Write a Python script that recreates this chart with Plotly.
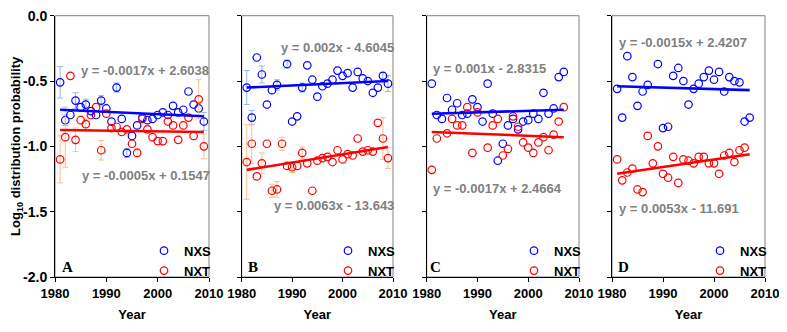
import numpy as np
import plotly.graph_objects as go

# ---------------- data ----------------
YEARS_AB = list(range(1981, 2010))
YEARS_CD = list(range(1981, 2008))

A_NXS = [-0.51, -0.80, -0.76, -0.65, -0.70, -0.68, -0.73, -0.76, -0.65, -0.71, -0.81, -0.55, -0.79, -1.05, -0.92,
         -0.84, -0.78, -0.80, -0.79, -0.76, -0.74, -0.76, -0.69, -0.74, -0.72, -0.58, -0.68, -0.71, -0.81]
A_NXT = [-1.10, -0.93, -0.46, -0.95, -0.80, -0.83, -0.76, -0.70, -1.03, -0.75, -0.86, -0.85, -0.89, -0.87, -0.98,
         -1.05, -0.79, -0.87, -0.93, -0.96, -0.96, -0.81, -0.84, -0.95, -0.84, -0.78, -0.92, -0.64, -1.00]
A_NXS_ERR = [0.12, 0.04, None, 0.06, None, 0.04, None, None, 0.04, None, None, 0.035, None, 0.035, None,
             None, None, None, None, None, None, None, None, None, None, None, None, None, 0.07]
A_NXT_ERR = [0.18, 0.23, None, 0.09, None, 0.04, None, None, 0.075, None, None, None, None, None, None,
             0.03, None, None, None, None, None, None, None, None, None, None, None, 0.15, 0.095]

B_NXS = [-0.55, -0.78, -0.32, -0.45, -0.68, -0.57, -0.53, None, -0.37, -0.81, -0.77, -0.55, -0.38, -0.49, -0.62,
         -0.54, -0.52, -0.49, -0.42, -0.46, -0.44, -0.55, -0.43, -0.48, -0.50, -0.59, -0.55, -0.46, -0.52]
B_NXT = [-1.12, -0.98, -1.23, -1.13, -0.98, -1.34, -1.33, -0.98, -1.15, -1.16, -1.15, -1.05, -1.13, -1.34, -1.11,
         -1.09, -1.08, -1.12, -1.03, -1.10, -1.06, -1.07, -0.94, -1.04, -1.03, -1.04, -0.82, -0.94, -1.09]
B_NXS_ERR = [0.13, 0.055, None, 0.065, None, None, 0.04, None, 0.03, None, None, 0.035, None, None, None,
             None, None, None, None, None, None, None, None, None, None, None, None, 0.025, 0.06]
B_NXT_ERR = [0.285, 0.15, None, 0.08, None, 0.05, 0.06, 0.05, None, 0.04, None, 0.045, None, None, None,
             None, None, None, None, None, None, None, None, None, None, None, None, 0.16, 0.08]

C_NXS = [-0.52, -0.76, -0.79, -0.63, -0.72, -0.67, -0.76, -0.75, -0.64, -0.70, -0.81, -0.52, -0.75, -1.11,
         -0.98, -0.84, -0.79, -0.87, -0.81, -0.80, -0.75, -0.79, -0.59, -0.75, -0.71, -0.47, -0.43]
C_NXT = [-1.18, -0.94, None, -0.90, -0.79, -0.84, -0.84, -0.70, -1.05, -0.74, None, -1.01, -0.84, -0.79,
         -1.07, -1.02, -0.77, -0.85, -0.97, -1.01, -1.05, -0.97, -0.93, -1.03, -0.91, -0.81, -0.70]

D_NXS = [-0.56, -0.78, -0.31, -0.47, -0.69, -0.58, -0.53, None, -0.37, -0.86, -0.85, -0.46, -0.40, -0.50,
         -0.68, -0.56, -0.52, -0.47, -0.42, -0.49, -0.43, -0.58, -0.47, -0.50, -0.51, -0.81, -0.78]
D_NXT = [-1.10, -1.26, -1.20, -1.17, -1.33, -1.35, -0.92, -1.13, -1.00, -1.21, -1.24, -1.08, -1.28, -1.10,
         -1.11, -1.13, -1.08, -1.08, -1.13, -1.13, -1.21, -1.07, -1.05, -1.12, -1.03, -1.01, None]

# linear trend lines as drawn in the chart: value at first and last year
TREND_YEARS_AB = [1981, 2009]
TREND_YEARS_CD = [1981, 2007]
A_NXS_TREND = [-0.72, -0.77]
A_NXT_TREND = [-0.875, -0.89]
B_NXS_TREND = [-0.55, -0.50]
B_NXT_TREND = [-1.18, -1.005]
C_NXS_TREND = [-0.75, -0.72]
C_NXT_TREND = [-0.89, -0.93]
D_NXS_TREND = [-0.54, -0.57]
D_NXT_TREND = [-1.21, -1.06]

PANEL_LETTERS = ["A", "B", "C", "D"]
EQ_UPPER = ["y = -0.0017x + 2.6038", "y = 0.002x - 4.6045", "y = 0.001x - 2.8315", "y = -0.0015x + 2.4207"]
EQ_LOWER = ["y = -0.0005x + 0.1547", "y = 0.0063x - 13.643", "y = -0.0017x + 2.4664", "y = 0.0053x - 11.691"]
Y_TICKS = [0.0, -0.5, -1.0, -1.5, -2.0]
Y_TICK_TEXT = ["0.0", "-0.5", "-1.0", "-1.5", "-2.0"]
X_TICKS = [1980, 1990, 2000, 2010]

# ---------------- style / layout ----------------
OFF = 8                     # page body margin of the html page
W, H = 787 - OFF, 332 - OFF
FONT = "Liberation Sans, Arial, sans-serif"
BLUE, RED = "#0000FF", "#FF0000"
EBLUE, EORANGE = "#95B8E3", "#FAC090"
GRAY = "#808080"

panels = [
    (YEARS_AB, A_NXS, A_NXT, A_NXS_ERR, A_NXT_ERR, TREND_YEARS_AB, A_NXS_TREND, A_NXT_TREND),
    (YEARS_AB, B_NXS, B_NXT, B_NXS_ERR, B_NXT_ERR, TREND_YEARS_AB, B_NXS_TREND, B_NXT_TREND),
    (YEARS_CD, C_NXS, C_NXT, None, None, TREND_YEARS_CD, C_NXS_TREND, C_NXT_TREND),
    (YEARS_CD, D_NXS, D_NXT, None, None, TREND_YEARS_CD, D_NXS_TREND, D_NXT_TREND),
]
x_pix = [(55, 209), (241.7, 393), (426.7, 579), (612, 765)]   # screen pixels
y_top, y_bot = 15.7, 277.0
eq_pos_upper = [(0.156, 0.792), (0.247, 0.878), (0.026, 0.799), (0.031, 0.898)]
eq_pos_lower = [(0.162, 0.388), (0.200, 0.272), (0.026, 0.338), (0.031, 0.261)]
letter_pos = [0.082, 0.073, 0.059, 0.074]

fig = go.Figure()


def arr(v):
    return np.array([np.nan if e is None else e for e in v], dtype=float)


for i, (yrs, nxs, nxt, enxs, enxt, tyrs, tnxs, tnxt) in enumerate(panels):
    sfx = "" if i == 0 else str(i + 1)
    xa, ya, leg = "x" + sfx, "y" + sfx, "legend" + sfx
    x = np.array(yrs, dtype=float)
    for name, vals, err, col, ecol in [("NXS", nxs, enxs, BLUE, EBLUE), ("NXT", nxt, enxt, RED, EORANGE)]:
        tr = dict(x=x, y=arr(vals), mode="markers", name=name, xaxis=xa, yaxis=ya, legend=leg,
                  marker=dict(symbol="circle-open", size=7.5, color=col, line=dict(width=1.2, color=col)),
                  hoverinfo="x+y")
        if err is not None:
            tr["error_y"] = dict(type="data", array=arr(err), visible=True, color=ecol, thickness=1, width=3)
        fig.add_trace(go.Scatter(**tr))
    for tv, col in [(tnxs, BLUE), (tnxt, RED)]:
        fig.add_trace(go.Scatter(x=tyrs, y=tv, mode="lines", xaxis=xa, yaxis=ya, showlegend=False,
                                 line=dict(color=col, width=2.6), hoverinfo="skip"))

    l, r = x_pix[i]
    dom_x = [(l - OFF) / W, (r - OFF) / W]
    dom_y = [1 - (y_bot - OFF) / H, 1 - (y_top - OFF) / H]
    fig.update_layout(**{
        "xaxis" + sfx: dict(domain=dom_x, range=[1980, 2010], tickvals=X_TICKS, ticks="outside", ticklen=4,
                            tickcolor="black", showline=True, linecolor="black", linewidth=1, showgrid=False,
                            zeroline=False, anchor=ya, automargin=False, ticklabeloverflow="allow",
                            tickfont=dict(family=FONT, size=13, color="black", weight="bold"),
                            title=dict(text="Year", font=dict(family=FONT, size=13, color="black", weight="bold"),
                                       standoff=10)),
        "yaxis" + sfx: dict(domain=dom_y, range=[-2, 0], tickvals=Y_TICKS, ticktext=Y_TICK_TEXT, ticks="outside",
                            ticklen=4, tickcolor="black", showline=True, linecolor="black", linewidth=1,
                            showgrid=False, zeroline=False, anchor=xa, showticklabels=(i == 0), automargin=False,
                            ticklabeloverflow="allow",
                            tickfont=dict(family=FONT, size=14, color="black", weight="bold")),
        leg: dict(x=dom_x[1] + 8 / W, xanchor="right", y=dom_y[0] - 0.027, yanchor="bottom",
                  bgcolor="rgba(0,0,0,0)", borderwidth=0, tracegroupgap=0, itemwidth=30,
                  font=dict(family=FONT, size=13, color="black", weight="bold")),
    })
    fig.add_shape(type="rect", xref=xa + " domain", yref=ya + " domain", x0=0, x1=1, y0=0, y1=1,
                  line=dict(color=GRAY, width=1), layer="below")
    for (px, py), txt in [(eq_pos_upper[i], EQ_UPPER[i]), (eq_pos_lower[i], EQ_LOWER[i])]:
        fig.add_annotation(xref=xa + " domain", yref=ya + " domain", x=px, y=py, text=txt, showarrow=False,
                           xanchor="left", yanchor="middle",
                           font=dict(family=FONT, size=13, color=GRAY, weight="bold"))
    fig.add_annotation(xref=xa + " domain", yref=ya + " domain", x=letter_pos[i], y=0.037, text=PANEL_LETTERS[i],
                       showarrow=False, xanchor="center", yanchor="middle",
                       font=dict(family="Liberation Serif, Times New Roman, serif", size=15, color="black",
                                 weight="bold"))

fig.update_layout(
    yaxis_title=dict(text="Log<sub>10</sub> distribution probability",
                     font=dict(family=FONT, size=13, color="black", weight="bold"), standoff=1),
    width=W, height=H, margin=dict(l=0, r=0, t=0, b=0, autoexpand=False),
    paper_bgcolor="white", plot_bgcolor="white", showlegend=True,
    font=dict(family=FONT),
)

fig.write_html("out.html")
